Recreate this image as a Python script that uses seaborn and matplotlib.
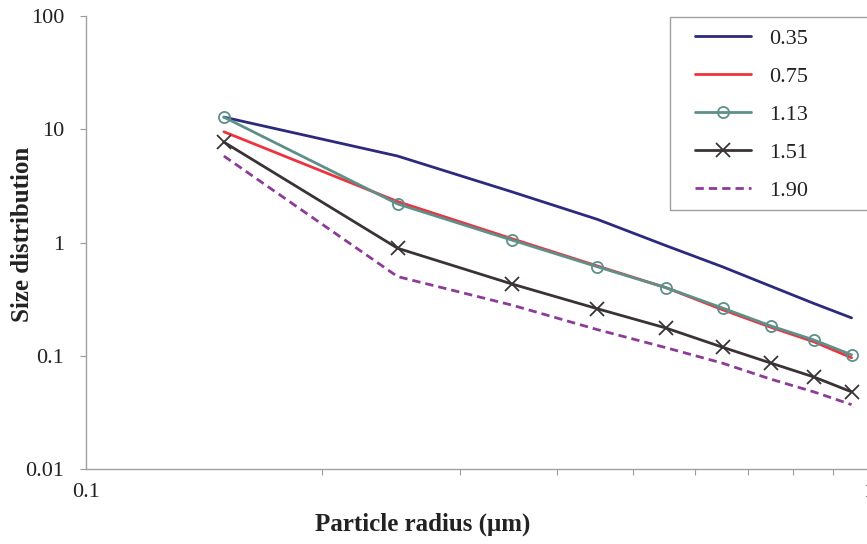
import seaborn as sns
import matplotlib.pyplot as plt
import matplotlib.ticker as mticker
from matplotlib.patches import Rectangle

# particle radius (um) and size distribution for each value of sigma
radius = [0.15, 0.25, 0.35, 0.45, 0.55, 0.65, 0.75, 0.85, 0.95]
dist_035 = [12.8, 5.8, 2.8, 1.6, 0.94, 0.61, 0.41, 0.29, 0.216]
dist_075 = [9.5, 2.3, 1.08, 0.62, 0.40, 0.255, 0.178, 0.133, 0.096]
dist_113 = [12.8, 2.19, 1.05, 0.61, 0.40, 0.264, 0.183, 0.138, 0.102]
dist_151 = [7.7, 0.89, 0.43, 0.26, 0.176, 0.119, 0.086, 0.065, 0.048]
dist_190 = [5.8, 0.50, 0.28, 0.17, 0.118, 0.086, 0.062, 0.048, 0.037]

labels = ['0.35', '0.75', '1.13', '1.51', '1.90']
series = [dist_035, dist_075, dist_113, dist_151, dist_190]
colores = ['#2c2a7c', '#ee3340', '#5e8f89', '#3a3335', '#8c3c96']
marcadores = [None, None, 'o', 'x', None]
estilos = ['-', '-', '-', '-', (0, (3.0, 1.8))]

sns.set_theme(style='white')
plt.rcParams['font.family'] = ['Liberation Serif', 'DejaVu Serif']

fig = plt.figure(figsize=(8.67, 5.44), dpi=100)
ax = fig.add_axes([86 / 867, 75 / 544, 783 / 867, 453 / 544])

for lab, vals, col, mk, ls in zip(labels, series, colores, marcadores, estilos):
    kw = dict(color=col, lw=2.0, linestyle=ls, label=lab)
    if mk == 'o':
        kw.update(marker='o', markersize=8, markerfacecolor='none',
                  markeredgecolor=col, markeredgewidth=1.3)
    elif mk == 'x':
        kw.update(marker='x', markersize=10, markeredgecolor=col,
                  markeredgewidth=1.3)
    sns.lineplot(x=radius, y=vals, ax=ax, **kw)

ax.set_xscale('log')
ax.set_yscale('log')
ax.set_xlim(0.1, 1)
ax.set_ylim(0.01, 100)

ax.yaxis.set_major_locator(mticker.FixedLocator([0.01, 0.1, 1, 10, 100]))
ax.yaxis.set_major_formatter(mticker.FuncFormatter(lambda v, p: '%g' % v))
ax.yaxis.set_minor_locator(mticker.NullLocator())
ax.xaxis.set_major_locator(mticker.FixedLocator([0.1, 1]))
ax.xaxis.set_major_formatter(mticker.FuncFormatter(lambda v, p: '%g' % v))
ax.xaxis.set_minor_locator(mticker.FixedLocator([0.2, 0.3, 0.4, 0.5, 0.6, 0.7, 0.8, 0.9]))
ax.xaxis.set_minor_formatter(mticker.NullFormatter())

ax.tick_params(axis='y', which='major', direction='out', length=4.5, width=0.8,
               color='#9a9a9a', pad=11, labelsize=16, labelcolor='#222222', left=True)
ax.tick_params(axis='x', which='major', length=0, pad=10, labelsize=16,
               labelcolor='#222222', bottom=True)
ax.tick_params(axis='x', which='minor', direction='out', length=4, width=0.8,
               color='#9a9a9a', bottom=True)

for s in ['top', 'right']:
    ax.spines[s].set_visible(False)
for s in ['left', 'bottom']:
    ax.spines[s].set_color('#a0a0a0')
    ax.spines[s].set_linewidth(1.0)

ax.set_xlabel('Particle radius (\u03bcm)', fontsize=18, fontweight='bold', color='#222222')
ax.set_ylabel('Size distribution', fontsize=18, fontweight='bold', color='#222222')
ax.xaxis.set_label_coords(0.43, -0.097)
ax.yaxis.set_label_coords(-0.066, 0.517)

leg = ax.legend(loc='upper left', bbox_to_anchor=(675 / 867, 1 - 8 / 544),
                bbox_transform=fig.transFigure, frameon=False, fontsize=16,
                handlelength=2.5, handletextpad=0.85, labelspacing=0.79, borderpad=0.4)
for t in leg.get_texts():
    t.set_color('#222222')

fig.add_artist(Rectangle((670 / 867, 1 - 210 / 544), 210 / 867, 193 / 544,
                         transform=fig.transFigure, fill=False,
                         edgecolor='#a0a0a0', lw=1.0))

fig.savefig('out.png', dpi=100, facecolor='white')
